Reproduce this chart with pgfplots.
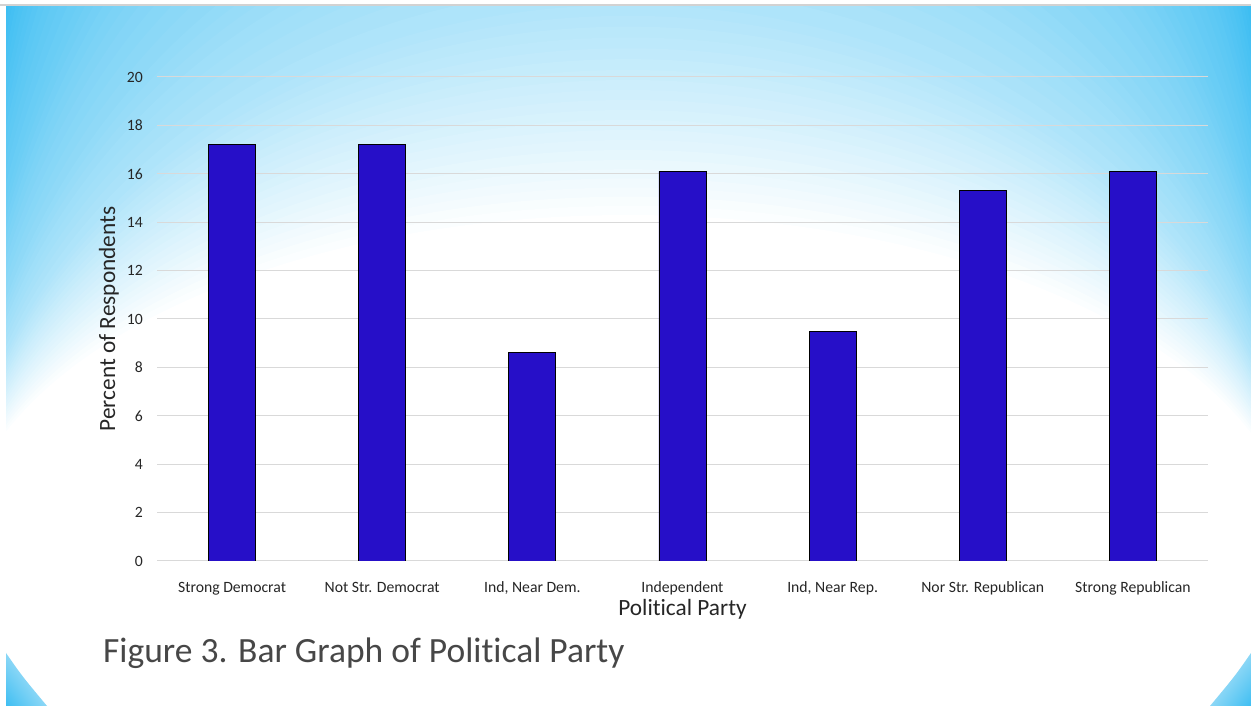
\documentclass[border=0pt]{standalone}
\usepackage{fontspec}
\setmainfont{Carlito}[Ligatures=NoCommon]
\usepackage{pgfplots}
\pgfplotsset{compat=1.18}
\usetikzlibrary{shadings}

\definecolor{skyblue}{RGB}{62,190,242}
\definecolor{skymid}{RGB}{140,215,246}
\definecolor{skypale}{RGB}{205,237,251}
\definecolor{barblue}{RGB}{38,15,200}
\definecolor{gridgray}{RGB}{217,217,217}
\definecolor{inkgray}{RGB}{38,38,38}

\begin{document}
\begin{tikzpicture}
  % page area and slide background
  \begin{scope}[x=1bp,y=1bp]
    \path[use as bounding box] (0,0) rectangle (1251,706);
    \fill[white] (0,0) rectangle (1251,706);
    \begin{scope}
      \clip (6,0) rectangle (1251,701);
      % sky-blue wash: nested ellipses of fixed width and growing height,
      % outermost (deepest blue) first
      \foreach \bhi/\fhi/\blo/\flo/\n in {
          1700/1.00/1486/1.00/1,
          1486/1.00/1243/0.89/6,
          1243/0.89/973/0.76/7,
          973/0.76/703/0.56/10,
          703/0.56/555/0.40/8,
          555/0.40/490/0.28/6,
          490/0.28/400/0.11/9,
          400/0.11/345/0.00/6}{
        \foreach \j in {1,...,\n}{
          \pgfmathsetmacro{\t}{(\j-1)/\n}
          \pgfmathsetmacro{\bb}{\bhi-\t*(\bhi-\blo)}
          \pgfmathsetmacro{\mix}{100*(\fhi-\t*(\fhi-\flo))}
          \fill[skyblue!\mix!white] (628,146) ellipse [x radius=670, y radius=\bb];
        }
      }
      \fill[white] (628,146) ellipse [x radius=670, y radius=345];
      % bottom corner accents
      \shade[lower left=skyblue, upper right=skypale, lower right=skymid, upper left=skymid]
        (6,0) -- (6,53) .. controls (22,30) .. (47,0) -- cycle;
      \shade[lower right=skyblue, upper left=skypale, lower left=skymid, upper right=skymid]
        (1251,0) -- (1251,53) .. controls (1235,30) .. (1210,0) -- cycle;
    \end{scope}
    \draw[gray!35, line width=1.5bp] (0,701) -- (1251,701);
    \node[anchor=base west, inner sep=0pt, text=black!72,
          font=\fontsize{35.5bp}{42bp}\selectfont] at (103,43)
      {Figure 3. Bar Graph of Political Party};
  \end{scope}

  \begin{axis}[
    at={(157bp,145bp)}, anchor=south west,
    scale only axis, width=1051bp, height=484bp,
    xmin=-0.5, xmax=6.5, ymin=0, ymax=20,
    ybar, bar width=47bp,
    xtick={0,...,6},
    xticklabels={Strong Democrat, Not Str. Democrat, {Ind, Near Dem.}, Independent,
                 {Ind, Near Rep.}, Nor Str. Republican, Strong Republican},
    ytick={0,2,...,20},
    axis line style={draw=none},
    tick style={draw=none},
    ymajorgrids, grid style={gridgray, line width=1bp},
    /pgf/number format/assume math mode=true,
    ticklabel style={font=\fontsize{15.7bp}{18bp}\selectfont, text=inkgray, inner sep=0pt},
    xticklabel style={anchor=base, yshift=-27bp},
    yticklabel style={anchor=east, xshift=-14bp},
    xlabel={Political Party},
    ylabel={Percent of Respondents},
    label style={font=\fontsize{23.3bp}{28bp}\selectfont, text=inkgray},
    xlabel style={at={(axis description cs:0.5,0)}, anchor=base, yshift=-55bp},
    ylabel style={at={(axis description cs:-0.0457,0.5)}, anchor=center},
  ]
    \addplot[fill=barblue, draw=black, line width=0.8bp]
      coordinates {(0,17.2) (1,17.2) (2,8.6) (3,16.1) (4,9.5) (5,15.3) (6,16.1)};
  \end{axis}
\end{tikzpicture}
\end{document}
